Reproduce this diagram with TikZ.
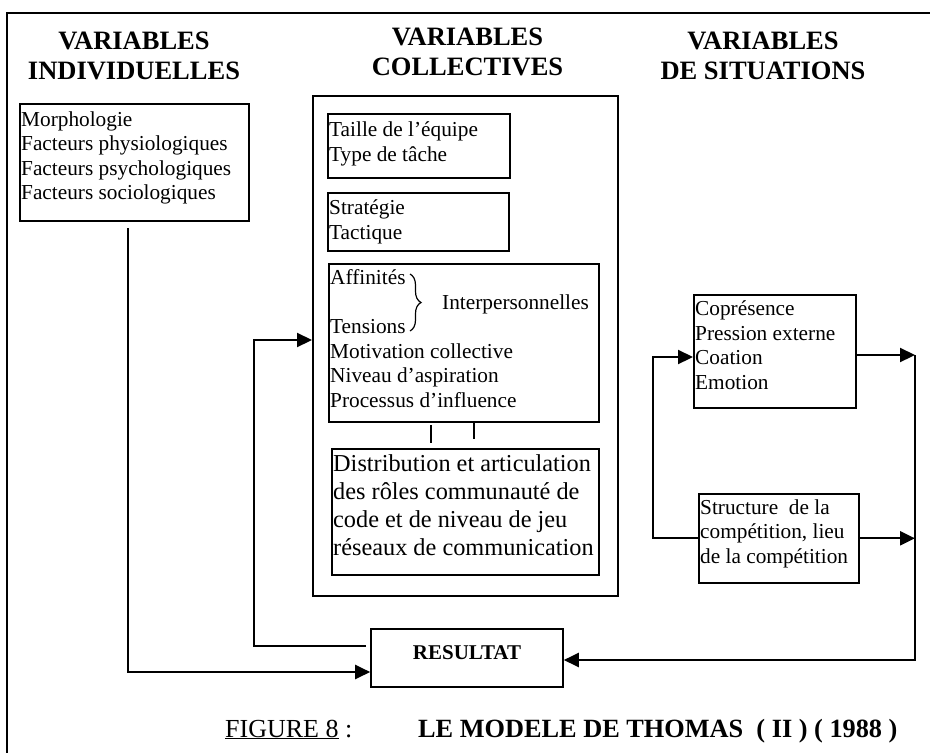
\documentclass[tikz,border=0pt]{standalone}
\usepackage{fontspec}
\setmainfont{Liberation Serif}
\usetikzlibrary{arrows.meta,decorations.pathreplacing,calc}
\begin{document}
\begin{tikzpicture}[x=1pt,y=-1pt,
  frame/.style={draw, line width=1.6pt, inner sep=0pt, anchor=north west},
  txt/.style={inner sep=0pt, anchor=north west, align=left,
    font=\fontsize{21.3}{24.5}\selectfont},
  bigtxt/.style={inner sep=0pt, anchor=north west, align=left,
    font=\fontsize{24.3}{28}\selectfont},
  head/.style={inner sep=0pt, anchor=north, align=center,
    font=\fontsize{26.5}{30}\selectfont\bfseries},
  link/.style={line width=2pt},
  arr/.style={line width=2.2pt, -{Triangle[length=15pt,width=14pt]}},
]
\useasboundingbox (0,0) rectangle (930,753);

% page frame (top and left edges)
\draw[line width=1.6pt] (7,753) -- (7,13) -- (930,13);

% column headings
\node[head] (h1) at (134,31.5) {VARIABLES\\INDIVIDUELLES};
\node[head] (h2) at (467.5,27.5) {VARIABLES\\COLLECTIVES};
\node[head] (h3) at (763,31.5) {VARIABLES\\DE SITUATIONS};

% individual variables
\node[frame, minimum width=229pt, minimum height=117pt] (ind) at (19,103) {};
\node[txt] (indtxt) at (21,111.5)
  {Morphologie\\Facteurs physiologiques\\Facteurs psychologiques\\Facteurs sociologiques};

% collective variables
\node[frame, minimum width=305pt, minimum height=500pt] (coll) at (312,95) {};
\node[frame, minimum width=182pt, minimum height=64pt] (taille) at (327,113) {};
\node[txt] (tailletxt) at (329,121.5) {Taille de l’équipe\\Type de tâche};
\node[frame, minimum width=181pt, minimum height=58pt] (strat) at (327,192) {};
\node[txt] (strattxt) at (329,199.5) {Stratégie\\Tactique};
\node[frame, minimum width=270pt, minimum height=158pt] (aff) at (328,263) {};
\node[txt] (afftxt) at (330,269.5)
  {Affinités\\\mbox{}\\Tensions\\Motivation collective\\Niveau d’aspiration\\Processus d’influence};
\draw[line width=1.2pt, decorate, decoration={brace, amplitude=11pt}] (410,274) -- (410,331);
\node[inner sep=0pt, anchor=base west, font=\fontsize{21.3}{24.5}\selectfont] (inter) at (442,309) {Interpersonnelles};
\draw[link] (431,425) -- (431,443);
\draw[link] (474,422) -- (474,439);
\node[frame, minimum width=267pt, minimum height=126pt] (dist) at (331,448) {};
\node[bigtxt] (disttxt) at (333,454.4)
  {Distribution et articulation\\des rôles communauté de\\code et de niveau de jeu\\réseaux de communication};

% situation variables
\node[frame, minimum width=162pt, minimum height=113pt] (copr) at (693,294) {};
\node[txt] (coprtxt) at (695,300.5) {Coprésence\\Pression externe\\Coation\\Emotion};
\node[frame, minimum width=160pt, minimum height=89pt] (struc) at (698,493) {};
\node[txt] (structxt) at (700,499.5) {Structure\ \ de la\\compétition, lieu\\de la compétition};

% result
\node[draw, line width=1.6pt, minimum width=192pt, minimum height=58pt, inner sep=0pt,
  text depth=10pt, font=\fontsize{21}{24}\selectfont\bfseries] (res) at (467,658) {RESULTAT};

% connectors
\coordinate (indfoot) at (128,228);
\draw[arr] (indfoot) |- ([yshift=-14pt]res.west);

\coordinate (fbcorner) at (254,340);
\draw[arr] ([xshift=-4pt,yshift=12pt]res.west) -| (fbcorner) -- (fbcorner -| coll.west);

\coordinate (sbend) at (653,357);
\draw[arr] (struc.west) -| (sbend) -- (sbend -| copr.west);

\coordinate (rtop) at (915,355);
\draw[arr] (copr.east |- rtop) -- (rtop);
\draw[arr] (struc.east) -- (struc.east -| rtop);
\draw[arr] (rtop) |- ([yshift=-2pt]res.east);

% caption
\node[inner sep=0pt, anchor=base west, font=\fontsize{26}{30}\selectfont] (figlab) at (225,737)
  {\underline{FIGURE 8} :};
\node[inner sep=0pt, anchor=base west, font=\fontsize{26.3}{30}\selectfont\bfseries] (figtitle) at (418,737)
  {LE MODELE DE THOMAS\ \ ( II ) ( 1988 )};
\end{tikzpicture}
\end{document}
